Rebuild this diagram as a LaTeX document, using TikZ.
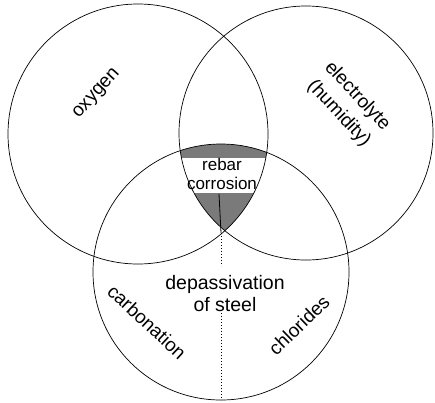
\documentclass[tikz,border=0pt]{standalone}
\usepackage{fontspec}
\setmainfont{Liberation Sans}
\begin{document}
\begin{tikzpicture}[x=1pt,y=-1pt,
  ring/.style={draw, line width=0.7pt, circle, inner sep=0pt},
  lbl/.style={font=\fontsize{19}{23}\selectfont, align=center, inner sep=0pt},
  small/.style={font=\fontsize{17}{19}\selectfont, align=center, inner sep=0pt},
  hatch/.style={fill=black!52},
  dots/.style={line width=0.9pt, dash pattern=on 1pt off 2pt}]
\useasboundingbox (0,0) rectangle (435,402);
\coordinate (cL) at (138,134);
\coordinate (cR) at (306,133);
\coordinate (cB) at (221,272);
\begin{scope}
  \clip (cL) circle[radius=130];
  \clip (cR) circle[radius=127];
  \clip (cB) circle[radius=128];
  \fill[hatch] (0,0) rectangle (435,158);
  \fill[hatch] (0,193) rectangle (435,402);
\end{scope}
\node[ring, minimum size=260pt] (oxy) at (cL) {};
\node[ring, minimum size=254pt] (ele) at (cR) {};
\node[ring, minimum size=256pt] (dep) at (cB) {};
\coordinate (tri) at (221,233);
\coordinate (mid) at (219,194);
\coordinate (d1) at (221,266);
\coordinate (d2) at (221,313);
\coordinate (bot) at (221,400);
\draw[line width=0.8pt] (mid) -- (tri);
\draw[dots] (tri) -- (d1);
\draw[dots] (d2) -- (bot);
\node[lbl, rotate=48] (tox) at (97,94) {oxygen};
\node[lbl, rotate=-47, font=\fontsize{19}{25}\selectfont] (tel) at (348,105) {electrolyte\\(humidity)};
\node[small] (trc) at (222,174) {rebar\\corrosion};
\node[lbl, font=\fontsize{19.5}{22}\selectfont] (tdp) at (225,294) {depassivation\\of steel};
\node[lbl, rotate=-43] (tca) at (147,322) {carbonation};
\node[lbl, rotate=44] (tch) at (299,325) {chlorides};
\end{tikzpicture}
\end{document}
